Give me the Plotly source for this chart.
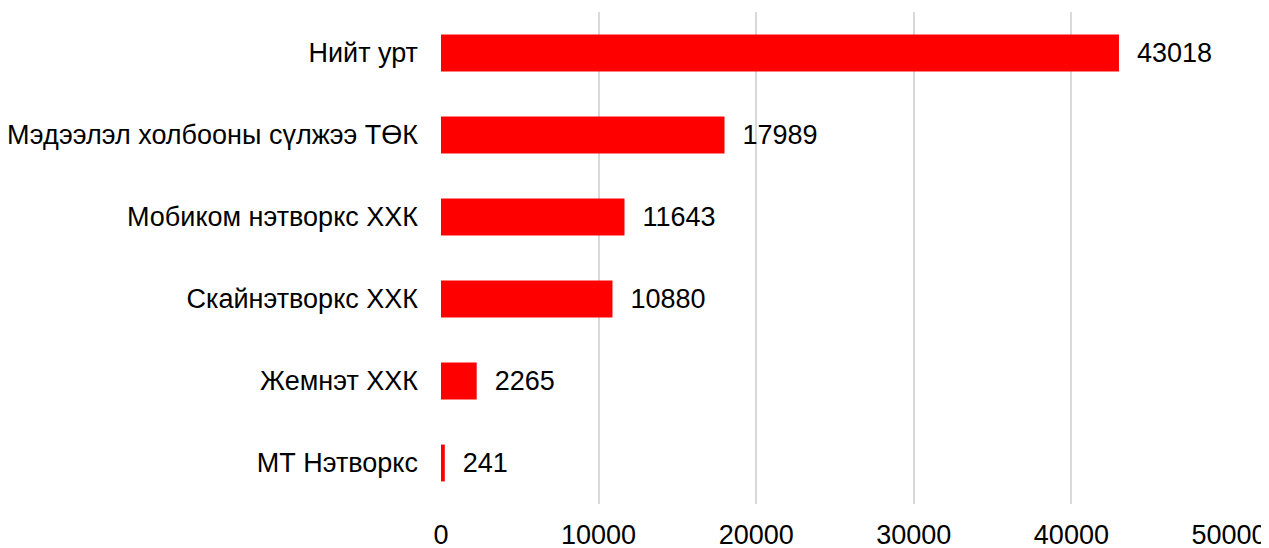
import plotly.graph_objects as go

categories = ["Нийт урт", "Мэдээлэл холбооны сүлжээ ТӨК", "Мобиком нэтворкс ХХК",
              "Скайнэтворкс ХХК", "Жемнэт ХХК", "МТ Нэтворкс"]
values = [43018, 17989, 11643, 10880, 2265, 241]
tick_vals = [0, 10000, 20000, 30000, 40000, 50000]

FONT = "Liberation Sans, Arial, sans-serif"
FS = 27

fig = go.Figure(go.Bar(
    x=values, y=categories, orientation="h",
    marker=dict(color="#FF0000", line=dict(width=0)),
    width=0.45,
    text=[str(v) for v in values], texttemplate="  %{text}", textposition="outside",
    textfont=dict(family=FONT, size=FS, color="#000000"),
    cliponaxis=False,
))

# page body has an 8px default margin, so the figure is shrunk by 8px
fig.update_layout(
    width=1261, height=540,
    margin=dict(l=433, r=40, t=4, b=44, autoexpand=False),
    paper_bgcolor="white", plot_bgcolor="white",
    font=dict(family=FONT, size=FS, color="#000000"),
    showlegend=False,
    uniformtext=dict(minsize=FS, mode="show"),
    xaxis=dict(range=[0, 50000], tickvals=tick_vals, ticktext=[str(v) for v in tick_vals],
               showgrid=True, gridcolor="#D9D9D9", gridwidth=2, zeroline=False,
               showline=False, ticks="", tickfont=dict(size=FS), ticklabelstandoff=12,
               automargin=False),
    yaxis=dict(autorange="reversed", showgrid=False, zeroline=False, showline=False,
               ticks="", tickfont=dict(size=FS), ticklabelstandoff=22, automargin=False),
)

fig.write_html("out.html")
